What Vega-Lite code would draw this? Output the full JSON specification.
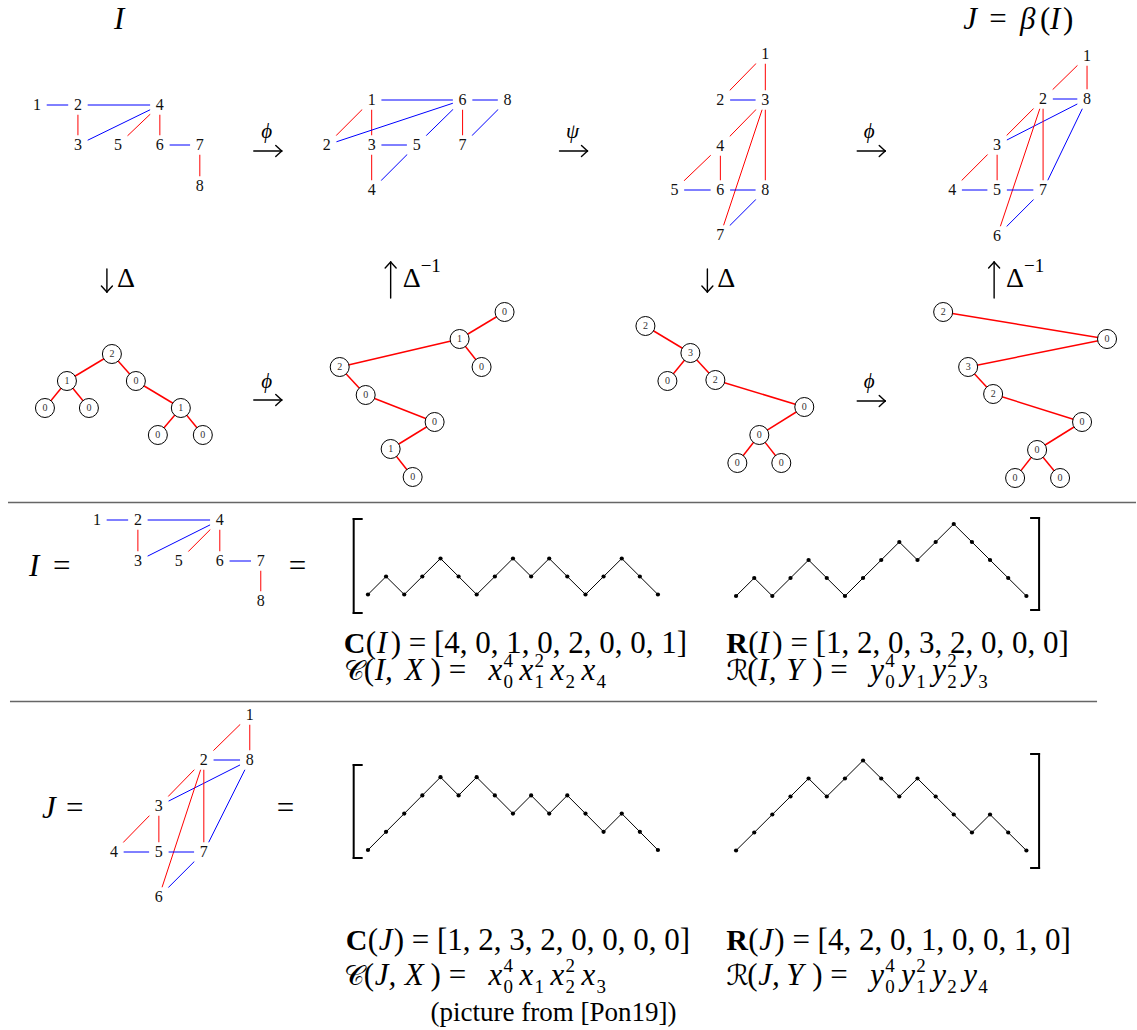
{
"$schema": "https://vega.github.io/schema/vega-lite/v6.json",
"width": 1137, "height": 1030,
"autosize": {"type": "fit", "contains": "padding"},
"padding": 0,
"background": "white",
"config": {"view": {"stroke": null}},
"datasets": {
"seps": [{"x":8,"y":502.5,"x2":1137,"y2":502.5},{"x":10,"y":701.5,"x2":1098,"y2":701.5}],
"gedges": [
{"x":37,"y":105,"x2":78,"y2":105,"c":"b"},{"x":78,"y":105,"x2":160,"y2":105,"c":"b"},{"x":78,"y":105,"x2":78,"y2":145,"c":"r"},{"x":78,"y":145,"x2":160,"y2":105,"c":"b"},{"x":118,"y":145,"x2":160,"y2":105,"c":"r"},{"x":160,"y":105,"x2":160,"y2":145,"c":"r"},{"x":160,"y":145,"x2":200,"y2":145,"c":"b"},{"x":200,"y":145,"x2":200,"y2":186,"c":"r"},
{"x":372,"y":100,"x2":463,"y2":100,"c":"b"},{"x":463,"y":100,"x2":508,"y2":100,"c":"b"},{"x":372,"y":100,"x2":327,"y2":145,"c":"r"},{"x":372,"y":100,"x2":372,"y2":145,"c":"r"},{"x":327,"y":145,"x2":463,"y2":100,"c":"b"},{"x":463,"y":100,"x2":417,"y2":145,"c":"b"},{"x":463,"y":100,"x2":463,"y2":145,"c":"r"},{"x":508,"y":100,"x2":463,"y2":145,"c":"b"},{"x":372,"y":145,"x2":417,"y2":145,"c":"b"},{"x":372,"y":145,"x2":372,"y2":190,"c":"r"},{"x":417,"y":145,"x2":372,"y2":190,"c":"b"},
{"x":766,"y":54,"x2":721,"y2":100,"c":"r"},{"x":766,"y":54,"x2":766,"y2":100,"c":"r"},{"x":721,"y":100,"x2":766,"y2":100,"c":"b"},{"x":766,"y":100,"x2":721,"y2":146,"c":"r"},{"x":766,"y":100,"x2":721,"y2":235,"c":"r"},{"x":766,"y":100,"x2":766,"y2":190,"c":"r"},{"x":721,"y":146,"x2":675,"y2":190,"c":"r"},{"x":721,"y":146,"x2":721,"y2":190,"c":"r"},{"x":675,"y":190,"x2":721,"y2":190,"c":"b"},{"x":721,"y":190,"x2":766,"y2":190,"c":"b"},{"x":766,"y":190,"x2":721,"y2":235,"c":"b"},
{"x":1088,"y":56,"x2":1044,"y2":99,"c":"r"},{"x":1088,"y":56,"x2":1088,"y2":99,"c":"r"},{"x":1044,"y":99,"x2":1088,"y2":99,"c":"b"},{"x":1044,"y":99,"x2":998,"y2":145,"c":"r"},{"x":998,"y":145,"x2":1088,"y2":99,"c":"b"},{"x":1044,"y":99,"x2":998,"y2":236,"c":"r"},{"x":1044,"y":99,"x2":1044,"y2":190,"c":"r"},{"x":1088,"y":99,"x2":1044,"y2":190,"c":"b"},{"x":998,"y":145,"x2":953,"y2":190,"c":"r"},{"x":998,"y":145,"x2":998,"y2":190,"c":"r"},{"x":953,"y":190,"x2":998,"y2":190,"c":"b"},{"x":998,"y":190,"x2":1044,"y2":190,"c":"b"},{"x":1044,"y":190,"x2":998,"y2":236,"c":"b"},
{"x":97,"y":520,"x2":138,"y2":520,"c":"b"},{"x":138,"y":520,"x2":220,"y2":520,"c":"b"},{"x":138,"y":520,"x2":138,"y2":561,"c":"r"},{"x":138,"y":561,"x2":220,"y2":520,"c":"b"},{"x":179,"y":561,"x2":220,"y2":520,"c":"r"},{"x":220,"y":520,"x2":220,"y2":561,"c":"r"},{"x":220,"y":561,"x2":261,"y2":561,"c":"b"},{"x":261,"y":561,"x2":261,"y2":601,"c":"r"},
{"x":250,"y":715,"x2":204,"y2":760,"c":"r"},{"x":250,"y":715,"x2":250,"y2":760,"c":"r"},{"x":204,"y":760,"x2":250,"y2":760,"c":"b"},{"x":204,"y":760,"x2":159,"y2":806,"c":"r"},{"x":159,"y":806,"x2":250,"y2":760,"c":"b"},{"x":204,"y":760,"x2":159,"y2":897,"c":"r"},{"x":204,"y":760,"x2":204,"y2":852,"c":"r"},{"x":250,"y":760,"x2":204,"y2":852,"c":"b"},{"x":159,"y":806,"x2":114,"y2":852,"c":"r"},{"x":159,"y":806,"x2":159,"y2":852,"c":"r"},{"x":114,"y":852,"x2":159,"y2":852,"c":"b"},{"x":159,"y":852,"x2":204,"y2":852,"c":"b"},{"x":204,"y":852,"x2":159,"y2":897,"c":"b"}
],
"gnodes": [
{"x":37,"y":105,"t":"1"},{"x":78,"y":105,"t":"2"},{"x":160,"y":105,"t":"4"},{"x":78,"y":145,"t":"3"},{"x":118,"y":145,"t":"5"},{"x":160,"y":145,"t":"6"},{"x":200,"y":145,"t":"7"},{"x":200,"y":186,"t":"8"},
{"x":372,"y":100,"t":"1"},{"x":463,"y":100,"t":"6"},{"x":508,"y":100,"t":"8"},{"x":327,"y":145,"t":"2"},{"x":372,"y":145,"t":"3"},{"x":417,"y":145,"t":"5"},{"x":463,"y":145,"t":"7"},{"x":372,"y":190,"t":"4"},
{"x":766,"y":54,"t":"1"},{"x":721,"y":100,"t":"2"},{"x":766,"y":100,"t":"3"},{"x":721,"y":146,"t":"4"},{"x":675,"y":190,"t":"5"},{"x":721,"y":190,"t":"6"},{"x":766,"y":190,"t":"8"},{"x":721,"y":235,"t":"7"},
{"x":1088,"y":56,"t":"1"},{"x":1044,"y":99,"t":"2"},{"x":1088,"y":99,"t":"8"},{"x":998,"y":145,"t":"3"},{"x":953,"y":190,"t":"4"},{"x":998,"y":190,"t":"5"},{"x":1044,"y":190,"t":"7"},{"x":998,"y":236,"t":"6"},
{"x":97,"y":520,"t":"1"},{"x":138,"y":520,"t":"2"},{"x":220,"y":520,"t":"4"},{"x":138,"y":561,"t":"3"},{"x":179,"y":561,"t":"5"},{"x":220,"y":561,"t":"6"},{"x":261,"y":561,"t":"7"},{"x":261,"y":601,"t":"8"},
{"x":250,"y":715,"t":"1"},{"x":204,"y":760,"t":"2"},{"x":250,"y":760,"t":"8"},{"x":159,"y":806,"t":"3"},{"x":114,"y":852,"t":"4"},{"x":159,"y":852,"t":"5"},{"x":204,"y":852,"t":"7"},{"x":159,"y":897,"t":"6"}
],
"tedges": [
{"x":112,"y":354,"x2":67,"y2":381},{"x":112,"y":354,"x2":136,"y2":381},{"x":67,"y":381,"x2":45,"y2":408},{"x":67,"y":381,"x2":89,"y2":408},{"x":136,"y":381,"x2":181,"y2":408},{"x":181,"y":408,"x2":158,"y2":435},{"x":181,"y":408,"x2":203,"y2":435},
{"x":460,"y":339,"x2":505,"y2":312},{"x":460,"y":339,"x2":482,"y2":367},{"x":460,"y":339,"x2":340,"y2":367},{"x":340,"y":367,"x2":366,"y2":395},{"x":366,"y":395,"x2":435,"y2":422},{"x":435,"y":422,"x2":391,"y2":449},{"x":391,"y":449,"x2":413,"y2":477},
{"x":646,"y":326,"x2":691,"y2":353},{"x":691,"y":353,"x2":668,"y2":381},{"x":691,"y":353,"x2":716,"y2":380},{"x":716,"y":380,"x2":805,"y2":407},{"x":805,"y":407,"x2":760,"y2":435},{"x":760,"y":435,"x2":738,"y2":463},{"x":760,"y":435,"x2":782,"y2":463},
{"x":944,"y":312,"x2":1108,"y2":339},{"x":1108,"y":339,"x2":969,"y2":367},{"x":969,"y":367,"x2":994,"y2":394},{"x":994,"y":394,"x2":1083,"y2":422},{"x":1083,"y":422,"x2":1038,"y2":450},{"x":1038,"y":450,"x2":1016,"y2":478},{"x":1038,"y":450,"x2":1061,"y2":478}
],
"tnodes": [
{"x":112,"y":354,"t":"2"},{"x":67,"y":381,"t":"1"},{"x":136,"y":381,"t":"0"},{"x":45,"y":408,"t":"0"},{"x":89,"y":408,"t":"0"},{"x":181,"y":408,"t":"1"},{"x":158,"y":435,"t":"0"},{"x":203,"y":435,"t":"0"},
{"x":505,"y":312,"t":"0"},{"x":460,"y":339,"t":"1"},{"x":482,"y":367,"t":"0"},{"x":340,"y":367,"t":"2"},{"x":366,"y":395,"t":"0"},{"x":435,"y":422,"t":"0"},{"x":391,"y":449,"t":"1"},{"x":413,"y":477,"t":"0"},
{"x":646,"y":326,"t":"2"},{"x":691,"y":353,"t":"3"},{"x":668,"y":381,"t":"0"},{"x":716,"y":380,"t":"2"},{"x":805,"y":407,"t":"0"},{"x":760,"y":435,"t":"0"},{"x":738,"y":463,"t":"0"},{"x":782,"y":463,"t":"0"},
{"x":944,"y":312,"t":"2"},{"x":1108,"y":339,"t":"0"},{"x":969,"y":367,"t":"3"},{"x":994,"y":394,"t":"2"},{"x":1083,"y":422,"t":"0"},{"x":1038,"y":450,"t":"0"},{"x":1016,"y":478,"t":"0"},{"x":1061,"y":478,"t":"0"}
],
"dyck": [
{"p":"ci","i":0,"x":368.3,"y":594.5},{"p":"ci","i":1,"x":386.4,"y":576.5},{"p":"ci","i":2,"x":404.6,"y":594.5},{"p":"ci","i":3,"x":422.7,"y":576.5},{"p":"ci","i":4,"x":440.9,"y":558.5},{"p":"ci","i":5,"x":459.0,"y":576.5},{"p":"ci","i":6,"x":477.1,"y":594.5},{"p":"ci","i":7,"x":495.3,"y":576.5},{"p":"ci","i":8,"x":513.4,"y":558.5},{"p":"ci","i":9,"x":531.6,"y":576.5},{"p":"ci","i":10,"x":549.7,"y":558.5},{"p":"ci","i":11,"x":567.8,"y":576.5},{"p":"ci","i":12,"x":586.0,"y":594.5},{"p":"ci","i":13,"x":604.1,"y":576.5},{"p":"ci","i":14,"x":622.3,"y":558.5},{"p":"ci","i":15,"x":640.4,"y":576.5},{"p":"ci","i":16,"x":658.5,"y":594.5},
{"p":"ri","i":0,"x":736.7,"y":596},{"p":"ri","i":1,"x":754.9,"y":578},{"p":"ri","i":2,"x":773.0,"y":596},{"p":"ri","i":3,"x":791.2,"y":578},{"p":"ri","i":4,"x":809.3,"y":560},{"p":"ri","i":5,"x":827.5,"y":578},{"p":"ri","i":6,"x":845.7,"y":596},{"p":"ri","i":7,"x":863.8,"y":578},{"p":"ri","i":8,"x":882.0,"y":560},{"p":"ri","i":9,"x":900.1,"y":542},{"p":"ri","i":10,"x":918.3,"y":560},{"p":"ri","i":11,"x":936.5,"y":542},{"p":"ri","i":12,"x":954.6,"y":524},{"p":"ri","i":13,"x":972.8,"y":542},{"p":"ri","i":14,"x":990.9,"y":560},{"p":"ri","i":15,"x":1009.1,"y":578},{"p":"ri","i":16,"x":1027.3,"y":596},
{"p":"cj","i":0,"x":368.3,"y":850},{"p":"cj","i":1,"x":386.4,"y":831.8},{"p":"cj","i":2,"x":404.6,"y":813.6},{"p":"cj","i":3,"x":422.7,"y":795.4},{"p":"cj","i":4,"x":440.9,"y":777.2},{"p":"cj","i":5,"x":459.0,"y":795.4},{"p":"cj","i":6,"x":477.1,"y":777.2},{"p":"cj","i":7,"x":495.3,"y":795.4},{"p":"cj","i":8,"x":513.4,"y":813.6},{"p":"cj","i":9,"x":531.6,"y":795.4},{"p":"cj","i":10,"x":549.7,"y":813.6},{"p":"cj","i":11,"x":567.8,"y":795.4},{"p":"cj","i":12,"x":586.0,"y":813.6},{"p":"cj","i":13,"x":604.1,"y":831.8},{"p":"cj","i":14,"x":622.3,"y":813.6},{"p":"cj","i":15,"x":640.4,"y":831.8},{"p":"cj","i":16,"x":658.5,"y":850},
{"p":"rj","i":0,"x":736.7,"y":850.5},{"p":"rj","i":1,"x":754.9,"y":832.5},{"p":"rj","i":2,"x":773.0,"y":814.5},{"p":"rj","i":3,"x":791.2,"y":796.5},{"p":"rj","i":4,"x":809.3,"y":778.5},{"p":"rj","i":5,"x":827.5,"y":796.5},{"p":"rj","i":6,"x":845.7,"y":778.5},{"p":"rj","i":7,"x":863.8,"y":760.5},{"p":"rj","i":8,"x":882.0,"y":778.5},{"p":"rj","i":9,"x":900.1,"y":796.5},{"p":"rj","i":10,"x":918.3,"y":778.5},{"p":"rj","i":11,"x":936.5,"y":796.5},{"p":"rj","i":12,"x":954.6,"y":814.5},{"p":"rj","i":13,"x":972.8,"y":832.5},{"p":"rj","i":14,"x":990.9,"y":814.5},{"p":"rj","i":15,"x":1009.1,"y":832.5},{"p":"rj","i":16,"x":1027.3,"y":850.5}
],
"brackets": [
{"x":354,"y":519,"x2":354,"y2":613},{"x":354,"y":519,"x2":362,"y2":519},{"x":354,"y":613,"x2":362,"y2":613},
{"x":1040,"y":518,"x2":1040,"y2":610},{"x":1032,"y":518,"x2":1040,"y2":518},{"x":1032,"y":610,"x2":1040,"y2":610},
{"x":354,"y":765,"x2":354,"y2":858},{"x":354,"y":765,"x2":362,"y2":765},{"x":354,"y":858,"x2":362,"y2":858},
{"x":1040,"y":754,"x2":1040,"y2":868},{"x":1032,"y":754,"x2":1040,"y2":754},{"x":1032,"y":868,"x2":1040,"y2":868}
],
"arrows": [
{"x":254,"y":151,"x2":282,"y2":151},{"x":282,"y":151,"x2":276,"y2":145.5},{"x":282,"y":151,"x2":276,"y2":156.5},
{"x":560,"y":151,"x2":588,"y2":151},{"x":588,"y":151,"x2":582,"y2":145.5},{"x":588,"y":151,"x2":582,"y2":156.5},
{"x":858,"y":151,"x2":886,"y2":151},{"x":886,"y":151,"x2":880,"y2":145.5},{"x":886,"y":151,"x2":880,"y2":156.5},
{"x":254,"y":400,"x2":282,"y2":400},{"x":282,"y":400,"x2":276,"y2":394.5},{"x":282,"y":400,"x2":276,"y2":405.5},
{"x":858,"y":401,"x2":886,"y2":401},{"x":886,"y":401,"x2":880,"y2":395.5},{"x":886,"y":401,"x2":880,"y2":406.5},
{"x":107,"y":269,"x2":107,"y2":292},{"x":107,"y":292,"x2":101.5,"y2":286},{"x":107,"y":292,"x2":112.5,"y2":286},
{"x":708,"y":269,"x2":708,"y2":292},{"x":708,"y":292,"x2":702.5,"y2":286},{"x":708,"y":292,"x2":713.5,"y2":286},
{"x":391,"y":262,"x2":391,"y2":298},{"x":391,"y":262,"x2":385.5,"y2":268},{"x":391,"y":262,"x2":396.5,"y2":268},
{"x":995,"y":262,"x2":995,"y2":298},{"x":995,"y":262,"x2":989.5,"y2":268},{"x":995,"y":262,"x2":1000.5,"y2":268}
],
"rom": [
{"x":990,"y":29,"t":"="},{"x":1041,"y":29,"t":"("},{"x":1064,"y":29,"t":")"},
{"x":53,"y":576,"t":"="},{"x":289,"y":576,"t":"="},
{"x":366,"y":653,"t":"("},{"x":391,"y":653,"t":") = [4, 0, 1, 0, 2, 0, 0, 1]"},{"x":364,"y":680,"t":"("},{"x":431,"y":680,"t":") ="},
{"x":749,"y":653,"t":"("},{"x":773,"y":653,"t":") = [1, 2, 0, 3, 2, 0, 0, 0]"},{"x":748,"y":680,"t":"("},{"x":813,"y":680,"t":") ="},
{"x":66,"y":818,"t":"="},{"x":277,"y":818,"t":"="},
{"x":368,"y":950,"t":"("},{"x":394,"y":950,"t":") = [1, 2, 3, 2, 0, 0, 0, 0]"},{"x":364,"y":985,"t":"("},{"x":431,"y":985,"t":") ="},
{"x":749,"y":950,"t":"("},{"x":775,"y":950,"t":") = [4, 2, 0, 1, 0, 0, 1, 0]"},{"x":748,"y":985,"t":"("},{"x":813,"y":985,"t":") ="}
],
"ital": [
{"x":114,"y":29,"t":"I"},{"x":964,"y":29,"t":"J"},{"x":1021,"y":29,"t":"β"},{"x":1051,"y":29,"t":"I"},
{"x":29,"y":576,"t":"I"},{"x":377,"y":653,"t":"I"},{"x":375,"y":680,"t":"I,"},{"x":405,"y":680,"t":"X"},
{"x":489,"y":680,"t":"x"},{"x":520,"y":680,"t":"x"},{"x":551,"y":680,"t":"x"},{"x":582,"y":680,"t":"x"},
{"x":759,"y":653,"t":"I"},{"x":759,"y":680,"t":"I,"},{"x":787,"y":680,"t":"Y"},
{"x":871,"y":680,"t":"y"},{"x":902,"y":680,"t":"y"},{"x":933,"y":680,"t":"y"},{"x":964,"y":680,"t":"y"},
{"x":42,"y":818,"t":"J"},{"x":379,"y":950,"t":"J"},{"x":375,"y":985,"t":"J,"},{"x":405,"y":985,"t":"X"},
{"x":489,"y":985,"t":"x"},{"x":520,"y":985,"t":"x"},{"x":551,"y":985,"t":"x"},{"x":582,"y":985,"t":"x"},
{"x":760,"y":950,"t":"J"},{"x":759,"y":985,"t":"J,"},{"x":787,"y":985,"t":"Y"},
{"x":871,"y":985,"t":"y"},{"x":902,"y":985,"t":"y"},{"x":933,"y":985,"t":"y"},{"x":964,"y":985,"t":"y"}
],
"bold": [{"x":344,"y":653,"t":"C"},{"x":727,"y":653,"t":"R"},{"x":346,"y":950,"t":"C"},{"x":727,"y":950,"t":"R"}],
"script": [{"x":344,"y":680,"t":"𝒞"},{"x":727,"y":680,"t":"ℛ"},{"x":344,"y":985,"t":"𝒞"},{"x":727,"y":985,"t":"ℛ"}],
"small": [
{"x":504,"y":667,"t":"4"},{"x":535,"y":667,"t":"2"},{"x":504,"y":688,"t":"0"},{"x":535,"y":688,"t":"1"},{"x":566,"y":688,"t":"2"},{"x":597,"y":688,"t":"4"},
{"x":886,"y":667,"t":"4"},{"x":948,"y":667,"t":"2"},{"x":886,"y":688,"t":"0"},{"x":917,"y":688,"t":"1"},{"x":948,"y":688,"t":"2"},{"x":979,"y":688,"t":"3"},
{"x":504,"y":972,"t":"4"},{"x":566,"y":972,"t":"2"},{"x":504,"y":993,"t":"0"},{"x":535,"y":993,"t":"1"},{"x":566,"y":993,"t":"2"},{"x":597,"y":993,"t":"3"},
{"x":886,"y":972,"t":"4"},{"x":917,"y":972,"t":"2"},{"x":886,"y":993,"t":"0"},{"x":917,"y":993,"t":"1"},{"x":948,"y":993,"t":"2"},{"x":979,"y":993,"t":"4"}
],
"caption": [{"x":431,"y":1021,"t":"(picture from [Pon19])"}],
"greek": [{"x":267,"y":132,"t":"ϕ"},{"x":573,"y":132,"t":"ψ"},{"x":870,"y":132,"t":"ϕ"},{"x":267,"y":382,"t":"ϕ"},{"x":870,"y":382,"t":"ϕ"}],
"delta": [{"x":117,"y":287,"t":"Δ"},{"x":403,"y":287,"t":"Δ"},{"x":718,"y":287,"t":"Δ"},{"x":1007,"y":287,"t":"Δ"}],
"minus1": [{"x":421,"y":272,"t":"−1"},{"x":1025,"y":272,"t":"−1"}]
},
"encoding": {
"x": {"field": "x", "type": "quantitative", "scale": {"domain": [0, 1137], "nice": false, "zero": false}, "axis": null},
"y": {"field": "y", "type": "quantitative", "scale": {"domain": [0, 1030], "nice": false, "zero": false, "reverse": true}, "axis": null}
},
"layer": [
{"data": {"name": "seps"}, "mark": {"type": "rule", "color": "#666666", "strokeWidth": 1.3}, "encoding": {"x2": {"field": "x2"}, "y2": {"field": "y2"}}},
{"data": {"name": "gedges"}, "mark": {"type": "rule", "strokeWidth": 1}, "encoding": {"x2": {"field": "x2"}, "y2": {"field": "y2"}, "color": {"field": "c", "type": "nominal", "scale": {"domain": ["r", "b"], "range": ["#ff0000", "#0000ff"]}, "legend": null}}},
{"data": {"name": "gnodes"}, "mark": {"type": "point", "shape": "square", "size": 380, "filled": true, "color": "white", "opacity": 1, "strokeWidth": 0}},
{"data": {"name": "gnodes"}, "mark": {"type": "text", "font": "Liberation Serif", "fontSize": 16, "align": "center", "baseline": "middle", "color": "#111111"}, "encoding": {"text": {"field": "t"}}},
{"data": {"name": "tedges"}, "mark": {"type": "rule", "color": "#ff0000", "strokeWidth": 1.5}, "encoding": {"x2": {"field": "x2"}, "y2": {"field": "y2"}}},
{"data": {"name": "tnodes"}, "mark": {"type": "point", "shape": "circle", "size": 361, "fill": "white", "stroke": "black", "strokeWidth": 1, "opacity": 1, "fillOpacity": 1}},
{"data": {"name": "tnodes"}, "mark": {"type": "text", "font": "Liberation Serif", "fontSize": 10, "align": "center", "baseline": "middle", "color": "#333333"}, "encoding": {"text": {"field": "t"}}},
{"data": {"name": "dyck"}, "mark": {"type": "line", "color": "black", "strokeWidth": 1}, "encoding": {"detail": {"field": "p"}, "order": {"field": "i", "type": "quantitative"}}},
{"data": {"name": "dyck"}, "mark": {"type": "point", "shape": "circle", "size": 18, "filled": true, "color": "black", "opacity": 1}},
{"data": {"name": "brackets"}, "mark": {"type": "rule", "color": "black", "strokeWidth": 2, "strokeCap": "square"}, "encoding": {"x2": {"field": "x2"}, "y2": {"field": "y2"}}},
{"data": {"name": "arrows"}, "mark": {"type": "rule", "color": "black", "strokeWidth": 1.4, "strokeCap": "round"}, "encoding": {"x2": {"field": "x2"}, "y2": {"field": "y2"}}},
{"data": {"name": "rom"}, "mark": {"type": "text", "font": "Liberation Serif", "fontSize": 31, "align": "left", "baseline": "alphabetic", "color": "black"}, "encoding": {"text": {"field": "t"}}},
{"data": {"name": "ital"}, "mark": {"type": "text", "font": "Liberation Serif", "fontStyle": "italic", "fontSize": 31, "align": "left", "baseline": "alphabetic", "color": "black"}, "encoding": {"text": {"field": "t"}}},
{"data": {"name": "bold"}, "mark": {"type": "text", "font": "Liberation Serif", "fontWeight": "bold", "fontSize": 30, "align": "left", "baseline": "alphabetic", "color": "black"}, "encoding": {"text": {"field": "t"}}},
{"data": {"name": "script"}, "mark": {"type": "text", "font": "DejaVu Serif, DejaVu Sans, Noto Sans", "fontSize": 28, "align": "left", "baseline": "alphabetic", "color": "black"}, "encoding": {"text": {"field": "t"}}},
{"data": {"name": "small"}, "mark": {"type": "text", "font": "Liberation Serif", "fontSize": 19, "align": "left", "baseline": "alphabetic", "color": "black"}, "encoding": {"text": {"field": "t"}}},
{"data": {"name": "caption"}, "mark": {"type": "text", "font": "Liberation Serif", "fontSize": 27, "align": "left", "baseline": "alphabetic", "color": "black"}, "encoding": {"text": {"field": "t"}}},
{"data": {"name": "greek"}, "mark": {"type": "text", "font": "Liberation Serif", "fontStyle": "italic", "fontSize": 21, "align": "center", "baseline": "middle", "color": "black"}, "encoding": {"text": {"field": "t"}}},
{"data": {"name": "delta"}, "mark": {"type": "text", "font": "Liberation Serif", "fontSize": 28, "align": "left", "baseline": "alphabetic", "color": "black"}, "encoding": {"text": {"field": "t"}}},
{"data": {"name": "minus1"}, "mark": {"type": "text", "font": "Liberation Serif", "fontSize": 19, "align": "left", "baseline": "alphabetic", "color": "black"}, "encoding": {"text": {"field": "t"}}}
]
}
